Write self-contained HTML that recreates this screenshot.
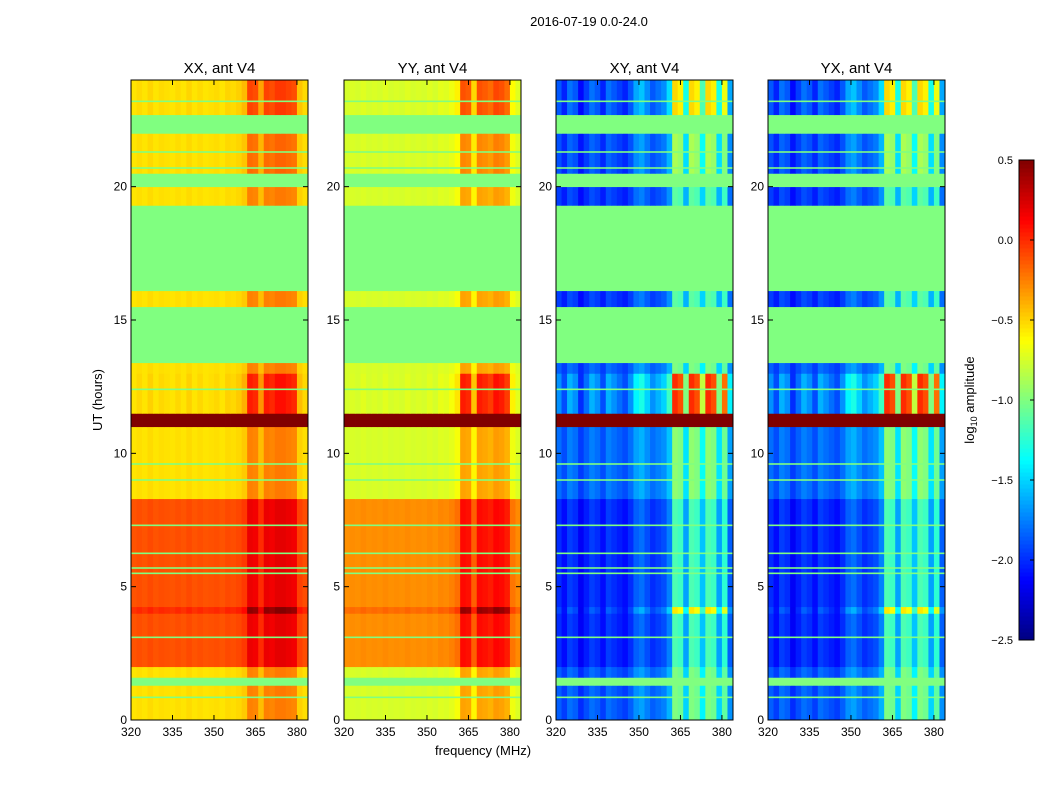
<!DOCTYPE html>
<html><head><meta charset="utf-8">
<style>
html,body{margin:0;padding:0;background:#fff;}
svg{display:block;font-family:"Liberation Sans","DejaVu Sans",sans-serif;}
</style></head>
<body>
<svg id="chart" width="1050" height="800" viewBox="0 0 1050 800" xmlns="http://www.w3.org/2000/svg">
<rect width="1050" height="800" fill="#fff"/>
<text x="589" y="26" font-size="13" text-anchor="middle">2016-07-19 0.0-24.0</text>
<g id="panels"></g>
<text x="102" y="400" font-size="13" text-anchor="middle" transform="rotate(-90 102 400)">UT (hours)</text>
<text x="483" y="755" font-size="13" text-anchor="middle">frequency (MHz)</text>
<g id="cbar"></g>
<text x="974" y="400" font-size="13" text-anchor="middle" transform="rotate(-90 974 400)">log<tspan font-size="9" dy="3">10</tspan><tspan dy="-3"> amplitude</tspan></text>
</svg>
<script>
const panelTitles = ["XX, ant V4","YY, ant V4","XY, ant V4","YX, ant V4"];
const bandStart = [0,1.3,1.6,2.0,4.0,4.25,8.3,11.0,11.5,13.0,13.4,15.5,16.1,19.3,20.0,20.5,22.0,22.7];
const bandEnd   = [1.3,1.6,2.0,4.0,4.25,8.3,11.0,11.5,13.0,13.4,15.5,16.1,19.3,20.0,20.5,22.0,22.7,24];
const bandGain  = [1,0,1,1,1.6,1,1,0,2.0,1,0,1,0,1,0,1.2,0,1.6];
const levelsXX = [-0.55,-1,-0.55,-0.12,-0.02,-0.12,-0.55,0.5,-0.55,-0.55,-1,-0.55,-1,-0.55,-1,-0.55,-1,-0.55];
const levelsYY = [-0.75,-1,-0.75,-0.3,-0.2,-0.3,-0.75,0.5,-0.75,-0.75,-1,-0.75,-1,-0.75,-1,-0.75,-1,-0.75];
const levelsXY = [-1.9,-1,-1.9,-2.05,-2.0,-2.05,-1.85,0.5,-1.8,-1.9,-1,-2.0,-1,-2.0,-1,-1.95,-1,-1.95];
const levelsYX = [-1.9,-1,-1.9,-2.05,-2.0,-2.05,-1.85,0.5,-1.8,-1.9,-1,-2.0,-1,-2.0,-1,-1.95,-1,-1.95];
// 32 frequency bins of 2 MHz from 320 to 384
const offsetsXX = [0,0.02,0,0.03,0,0.02,0.01,0,0.02,0,0.03,0,0.02,0,0.01,0.02,0,0.03,0.02,0.04,0.08,0.3,0.28,0.12,0.3,0.28,0.32,0.32,0.3,0.28,0.06,0.02];
const offsetsYY = [0,0.01,0,0.02,0,0.01,0,0.02,0,0.01,0,0.02,0,0.01,0,0.02,0,0.03,0.02,0.05,0.1,0.4,0.38,0.15,0.4,0.38,0.35,0.42,0.4,0.35,0.08,0.02];
const offsetsXY = [0.05,-0.05,0.1,0.05,-0.1,0,0.1,0.05,-0.05,0.1,0.05,0,-0.05,0.05,0.2,0.25,0.15,0.05,0.1,0.15,0.3,0.9,0.85,0.4,0.9,0.85,0.5,0.9,0.85,0.4,0.8,0.2];
const offsetsYX = [0.05,-0.05,0.1,0.05,-0.1,0,0.1,0.05,-0.05,0.1,0.05,0,-0.05,0.05,0.2,0.25,0.15,0.05,0.1,0.15,0.3,0.9,0.85,0.4,0.9,0.85,0.5,0.9,0.85,0.4,0.8,0.2];
const flagLines = [0.85,3.1,5.5,5.7,6.25,7.3,9.0,9.6,12.4,20.7,21.3,23.2];
const xTicks = [320,335,350,365,380];
const yTicks = [0,5,10,15,20];
const cbarTicks = [0.5,0.0,-0.5,-1.0,-1.5,-2.0,-2.5];

const panelLeft = [131,344,556,768], PW = 177, PT = 80, PB = 720;
const NS = "http://www.w3.org/2000/svg";
const levels = [levelsXX,levelsYY,levelsXY,levelsYX];
const offsets = [offsetsXX,offsetsYY,offsetsXY,offsetsYX];
const VMIN=-2.5, VMAX=0.5;
function jet(v){
  let x=(Math.max(VMIN,Math.min(VMAX,v))-VMIN)/(VMAX-VMIN);
  const c=t=>Math.round(255*Math.max(0,Math.min(1,t)));
  return `rgb(${c(1.5-Math.abs(4*x-3))},${c(1.5-Math.abs(4*x-2))},${c(1.5-Math.abs(4*x-1))})`;
}
function yScale(h){return PB-(h/24)*(PB-PT);}
function el(tag,attrs,parent){const e=document.createElementNS(NS,tag);for(const k in attrs)e.setAttribute(k,attrs[k]);parent.appendChild(e);return e;}
const root=document.getElementById('panels');
for(let p=0;p<4;p++){
  const L=panelLeft[p];
  const xScale=f=>L+(f-320)/64*PW;
  const g=el('g',{},root);
  
  
  for(let b=0;b<bandStart.length;b++){
    const y0=yScale(bandEnd[b]), y1=yScale(bandStart[b]);
    const nb=offsets[p].length;
    for(let i=0;i<nb;i++){
      const v=levels[p][b]+offsets[p][i]*bandGain[b];
      const x0=xScale(320+i*2), x1=xScale(322+i*2);
      const r=el('rect',{x:x0,y:y0,width:x1-x0+0.4,height:y1-y0+0.4,fill:jet(v)},g);
      
      
    }
  }
  for(const h of flagLines){
    const r=el('rect',{x:L,y:yScale(h)-0.8,width:PW,height:1.6,fill:jet(-1)},g);
    
    
  }
  const fr=el('rect',{x:L,y:PT,width:PW,height:PB-PT,fill:'none',stroke:'#000','stroke-width':1},g);
  
  
  const t=el('text',{x:L+PW/2,y:PT-7,'font-size':15,'text-anchor':'middle'},g);
  t.textContent=panelTitles[p];
  
  
  for(const f of xTicks){
    const x=xScale(f);
    el('line',{x1:x,x2:x,y1:PB,y2:PB-5,stroke:'#000'},g);
    el('line',{x1:x,x2:x,y1:PT,y2:PT+5,stroke:'#000'},g);
    const tl=el('text',{x:x,y:PB+16,'font-size':12,'text-anchor':'middle'},g);
    tl.textContent=f;
    
    
  }
  for(const h of yTicks){
    const y=yScale(h);
    el('line',{x1:L,x2:L+5,y1:y,y2:y,stroke:'#000'},g);
    el('line',{x1:L+PW,x2:L+PW-5,y1:y,y2:y,stroke:'#000'},g);
    const tl=el('text',{x:L-4,y:y+4,'font-size':12,'text-anchor':'end'},g);
    tl.textContent=h;
    
    
  }
}
const cb=document.getElementById('cbar');
const CX=1019,CW=15,CT=160,CB=640;
const cScale=v=>CB-(v-VMIN)/(VMAX-VMIN)*(CB-CT);
for(let i=0;i<120;i++){
  const v0=VMIN+i*(VMAX-VMIN)/120, v1=VMIN+(i+1)*(VMAX-VMIN)/120;
  el('rect',{x:CX,y:cScale(v1),width:CW,height:cScale(v0)-cScale(v1)+0.5,fill:jet((v0+v1)/2)},cb);
}
el('rect',{x:CX,y:CT,width:CW,height:CB-CT,fill:'none',stroke:'#000'},cb);
for(const v of cbarTicks){
  const y=cScale(v);
  el('line',{x1:CX+CW,x2:CX+CW-4,y1:y,y2:y,stroke:'#000'},cb);
  const tl=el('text',{x:CX-6,y:y+4,'font-size':11,'text-anchor':'end'},cb);
  tl.textContent=(v<0?'\u2212':'')+Math.abs(v).toFixed(1);
  
  
}
</script>
</body></html>
